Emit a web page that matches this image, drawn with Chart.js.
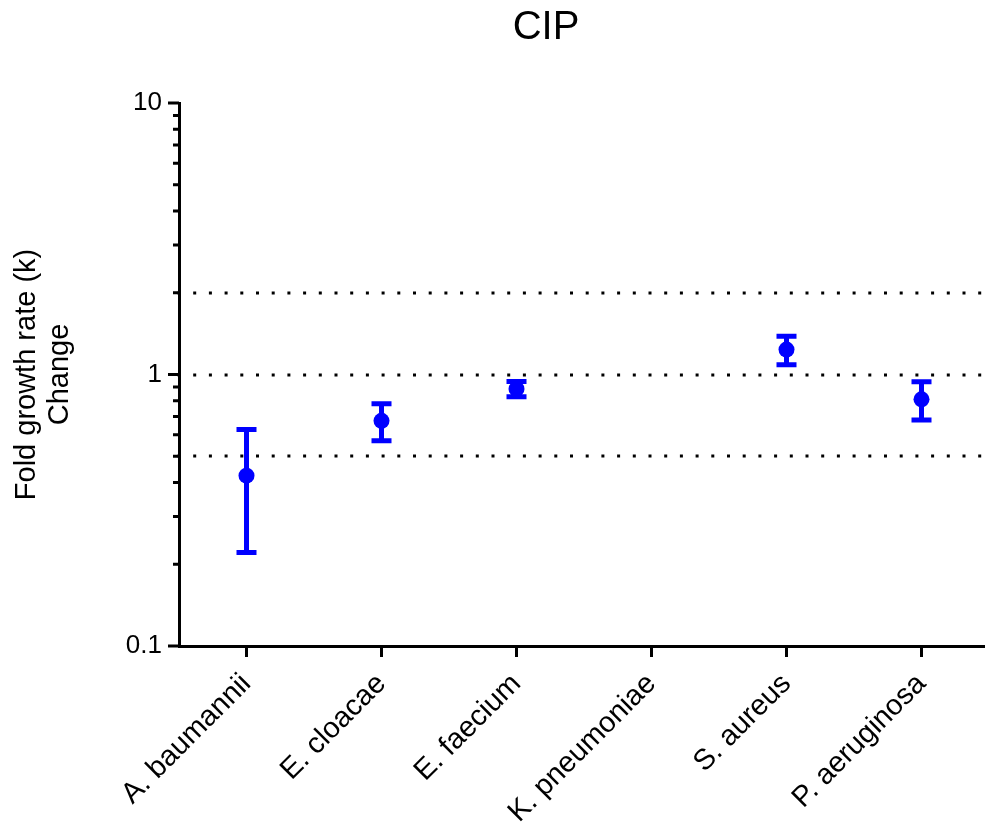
<!DOCTYPE html>
<html>
<head>
<meta charset="utf-8">
<script src="https://cdn.jsdelivr.net/npm/chart.js"></script>
<style>
  html, body { margin: 0; padding: 0; background: #fff; overflow: hidden; }
  canvas { display: block; }
</style>
</head>
<body>
<canvas id="cipChart" width="997" height="826"></canvas>
<script>
  // CIP fold change per organism (mean +/- SD)
  let categories = ["A. baumannii", "E. cloacae", "E. faecium", "K. pneumoniae", "S. aureus", "P. aeruginosa"];
  let means = [0.424, 0.675, 0.885, null, 1.235, 0.81];
  let sd = [0.203, 0.105, 0.057, null, 0.148, 0.13];
  let refLines = [2, 1, 0.5];
  let yTicks = [0.1, 0.2, 0.3, 0.4, 0.5, 0.6, 0.7, 0.8, 0.9, 1, 2, 3, 4, 5, 6, 7, 8, 9, 10];
  let yTickLabels = ["0.1", "1", "10"];

  let blue = "#0000ff";
  let font = "'Liberation Sans', Arial, sans-serif";

  // dotted reference lines, error bars, tick marks and title
  let extras = {
    id: "extras",
    beforeDatasetsDraw(chart) {
      let { ctx, chartArea, scales: { x, y } } = chart;
      ctx.save();
      ctx.strokeStyle = "#000";
      ctx.lineWidth = 3;
      ctx.setLineDash([3, 12.7]);
      refLines.forEach(function (v) {
        let py = Math.round(y.getPixelForValue(v));
        ctx.beginPath();
        ctx.moveTo(chartArea.left - 1.5, py);
        ctx.lineTo(chartArea.right, py);
        ctx.stroke();
      });
      ctx.setLineDash([]);

      ctx.strokeStyle = blue;
      ctx.lineWidth = 5;
      means.forEach(function (m, i) {
        if (m == null) return;
        let px = x.getPixelForValue(i);
        let top = y.getPixelForValue(m + sd[i]);
        let bot = y.getPixelForValue(m - sd[i]);
        ctx.beginPath();
        ctx.moveTo(px, top);
        ctx.lineTo(px, bot);
        ctx.moveTo(px - 10, top);
        ctx.lineTo(px + 10, top);
        ctx.moveTo(px - 10, bot);
        ctx.lineTo(px + 10, bot);
        ctx.stroke();
      });
      ctx.restore();
    },
    afterDraw(chart) {
      let { ctx, chartArea, scales: { x, y } } = chart;
      ctx.save();
      ctx.strokeStyle = "#000";
      ctx.lineWidth = 3;
      ctx.beginPath();
      y.ticks.forEach(function (t) {
        let py = y.getPixelForValue(t.value);
        let len = t.major ? 11 : 6;
        ctx.moveTo(chartArea.left, py);
        ctx.lineTo(chartArea.left - len, py);
      });
      categories.forEach(function (c, i) {
        let px = x.getPixelForValue(i);
        ctx.moveTo(px, chartArea.bottom);
        ctx.lineTo(px, chartArea.bottom + 11);
      });
      ctx.stroke();

      ctx.fillStyle = "#000";
      ctx.font = "40px " + font;
      ctx.textAlign = "center";
      ctx.textBaseline = "middle";
      ctx.fillText("CIP", 546, 28);
      ctx.restore();
    }
  };

  let mychart = document.getElementById("cipChart").getContext("2d");
  let chart = new Chart(mychart, {
    type: "line",
    data: {
      labels: categories,
      datasets: [
        {
          data: means,
          showLine: false,
          pointStyle: "circle",
          pointRadius: 8,
          pointHoverRadius: 8,
          pointBorderWidth: 0,
          backgroundColor: blue,
          borderColor: blue,
        },
      ],
    },
    options: {
      responsive: false,
      animation: false,
      devicePixelRatio: 1,
      layout: { padding: { top: 103, left: 0, right: 0, bottom: 0 } },
      plugins: {
        legend: { display: false },
        tooltip: { enabled: false },
      },
      scales: {
        x: {
          offset: true,
          grid: { display: false, drawTicks: false },
          border: { display: true, color: "#000", width: 3 },
          ticks: {
            color: "#000",
            font: { family: font, size: 29 },
            minRotation: 45,
            maxRotation: 45,
            autoSkip: false,
            padding: 21,
          },
          afterFit: function (scale) {
            scale.height = 180;
          },
        },
        y: {
          type: "logarithmic",
          min: 0.1,
          max: 10,
          grid: { display: false, drawTicks: false },
          border: { display: true, color: "#000", width: 3 },
          ticks: {
            color: "#000",
            font: { family: font, size: 26 },
            padding: 17,
            autoSkip: false,
            callback: function (v) {
              return yTickLabels.includes(String(v)) ? String(v) : "";
            },
          },
          title: {
            display: true,
            text: ["Fold growth rate (k)", "Change"],
            color: "#000",
            font: { family: font, size: 29, lineHeight: 1.15 },
            padding: { top: 10, bottom: 0 },
          },
          afterBuildTicks: function (scale) {
            scale.ticks = yTicks.map(function (v) {
              return { value: v, major: yTickLabels.includes(String(v)) };
            });
          },
          afterFit: function (scale) {
            scale.width = 179;
          },
        },
      },
    },
    plugins: [extras],
  });
</script>
</body>
</html>
